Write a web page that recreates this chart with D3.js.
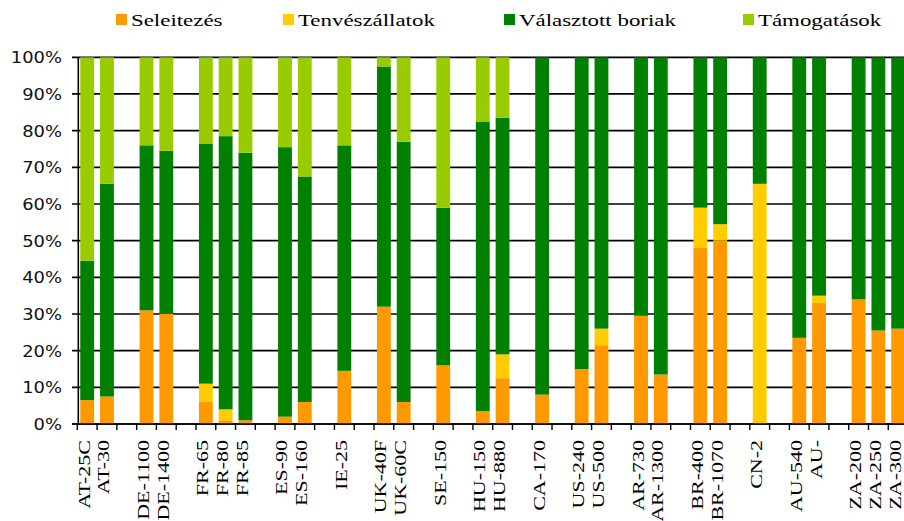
<!DOCTYPE html>
<html>
<head>
<meta charset="utf-8">
<script src="https://cdn.jsdelivr.net/npm/d3@7"></script>
<style>
  html, body { margin: 0; padding: 0; background: #fff; }
  svg { display: block; }
</style>
</head>
<body>
<svg id="chart" width="904" height="521"></svg>
<script>
// ---- data (percent shares); "" marks an empty spacer slot ----
const categories = ["AT-25C","AT-30","","DE-1100","DE-1400","","FR-65","FR-80","FR-85","",
  "ES-90","ES-160","","IE-25","","UK-40F","UK-60C","","SE-150","","HU-150","HU-880","",
  "CA-170","","US-240","US-500","","AR-730","AR-1300","","BR-400","BR-1070","","CN-2","",
  "AU-540","AU-","","ZA-200","ZA-250","ZA-300"];
const seriesNames = ["Seleitezés","Tenvészállatok","Választott boriak","Támogatások"];
const seleitezes    = [6.5,7.5,0,31,30,0,6,1,1,0, 2,6,0,14.5,0,32,6,0,16,0,3.5,12.5,0, 8,0,15,21.5,0,29.5,13.5,0,48,50,0,0,0, 23.5,33,0,34,25.5,26];
const tenveszallat  = [0,0,0,0,0,0,5,3,0,0, 0,0,0,0,0,0,0,0,0,0,0,6.5,0, 0,0,0,4.5,0,0,0,0,11,4.5,0,65.5,0, 0,2,0,0,0,0];
const valasztott    = [38,58,0,45,44.5,0,65.5,74.5,73,0, 73.5,61.5,0,61.5,0,65.5,71,0,43,0,79,64.5,0, 92,0,85,74,0,70.5,86.5,0,41,45.5,0,34.5,0, 76.5,65,0,66,74.5,74];
const tamogatasok   = [55.5,34.5,0,24,25.5,0,23.5,21.5,26,0, 24.5,32.5,0,24,0,2.5,23,0,41,0,17.5,16.5,0, 0,0,0,0,0,0,0,0,0,0,0,0,0, 0,0,0,0,0,0];
const yTicks = [0,0.1,0.2,0.3,0.4,0.5,0.6,0.7,0.8,0.9,1];
const colors = ["#FF9900","#FFCC00","#008000","#99CC00"];

// ---- build table ----
const seriesArrays = [seleitezes, tenveszallat, valasztott, tamogatasok];
const table = categories.map((c, i) => {
  const row = { idx: i, cat: c };
  seriesNames.forEach((k, j) => row[k] = seriesArrays[j][i] / 100);
  return row;
});

const svg = d3.select("#chart");
const x0 = 77.3, step = 19.78;
const x = d3.scaleBand()
  .domain(d3.range(categories.length))
  .range([x0, x0 + step * categories.length])
  .paddingInner(0.30).paddingOuter(0.15);
const y = d3.scaleLinear().domain([0, 1]).range([424, 57.3]);

// gridlines
svg.append("g").selectAll("line").data(yTicks).join("line")
  .attr("x1", 72).attr("x2", 904)
  .attr("y1", d => y(d)).attr("y2", d => y(d))
  .attr("stroke", "#000").attr("stroke-width", 1.7);

// bars
const stack = d3.stack().keys(seriesNames)(table);
svg.append("g").selectAll("g").data(stack).join("g")
  .attr("fill", (d, i) => colors[i])
  .selectAll("rect").data(d => d.filter(p => p[1] - p[0] > 0)).join("rect")
  .attr("x", p => x(p.data.idx))
  .attr("width", x.bandwidth())
  .attr("y", p => y(p[1]))
  .attr("height", p => y(p[0]) - y(p[1]));

// y axis line
svg.append("line").attr("x1", 78.3).attr("x2", 78.3).attr("y1", y(1)).attr("y2", y(0) + 0.8)
  .attr("stroke", "#000").attr("stroke-width", 1.6);
// x axis line + ticks
svg.append("line").attr("x1", 72).attr("x2", 904).attr("y1", y(0)).attr("y2", y(0))
  .attr("stroke", "#000").attr("stroke-width", 1.7);
svg.append("g").selectAll("line").data(d3.range(categories.length + 1)).join("line")
  .attr("x1", i => x0 + i * x.step()).attr("x2", i => x0 + i * x.step())
  .attr("y1", y(0)).attr("y2", y(0) + 6)
  .attr("stroke", "#000").attr("stroke-width", 1.4);

// y tick labels
const fmt = d3.format(".0%");
svg.append("g").selectAll("text").data(yTicks).join("text")
  .attr("transform", d => `translate(62,${y(d) + 6}) scale(1.12,1)`)
  .attr("text-anchor", "end")
  .attr("font-family", "'DejaVu Sans', Verdana, sans-serif")
  .attr("font-size", 16)
  .attr("fill", "#111")
  .text(d => fmt(d));

// x category labels (rotated)
svg.append("g").selectAll("text").data(table.filter(d => d.cat !== "")).join("text")
  .attr("transform", d => `translate(${x(d.idx) + x.bandwidth() / 2 + 2.5},440) rotate(-90) scale(1,0.72)`)
  .attr("text-anchor", "end")
  .attr("font-family", "'Liberation Serif', 'Times New Roman', serif")
  .attr("font-size", 22)
  .attr("fill", "#000")
  .text(d => d.cat);

// legend
const legendX = [116, 283, 504, 743];
const lg = svg.append("g").selectAll("g").data(seriesNames).join("g")
  .attr("transform", (d, i) => `translate(${legendX[i]},0)`);
lg.append("rect").attr("x", 0).attr("y", 14).attr("width", 11).attr("height", 11)
  .attr("fill", (d, i) => colors[i]);
lg.append("text")
  .attr("transform", "translate(15,26) scale(1.43,1)")
  .attr("font-family", "'Liberation Serif', 'Times New Roman', serif")
  .attr("font-size", 16)
  .attr("fill", "#000")
  .text(d => d);
</script>
</body>
</html>
